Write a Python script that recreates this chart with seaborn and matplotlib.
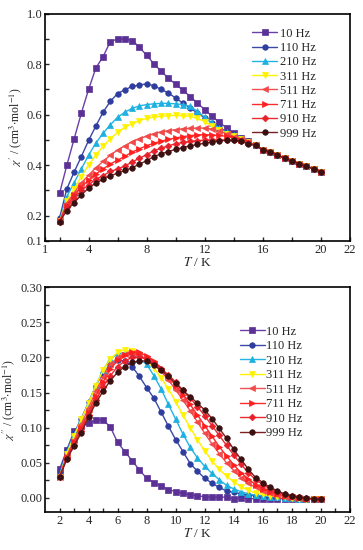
import numpy as np
import pandas as pd
import matplotlib
matplotlib.use("Agg")
import matplotlib.pyplot as plt
import seaborn as sns
from matplotlib.ticker import FixedLocator, MultipleLocator, FormatStrFormatter

sns.set_style("ticks")
plt.rcParams['font.family'] = ['Liberation Serif', 'DejaVu Serif']
plt.rcParams['mathtext.fontset'] = 'stix'

# temperature grid (K)
T = np.arange(2.0, 20.01, 0.5)

freqs = ['10 Hz', '110 Hz', '210 Hz', '311 Hz', '511 Hz', '711 Hz', '910 Hz', '999 Hz']

# common high-temperature tail of chi' (T = 15.5 ... 20)
tail = [0.478, 0.462, 0.452, 0.440, 0.428, 0.416, 0.405, 0.396, 0.385, 0.374]

# in-phase susceptibility chi' (T = 2 ... 15), then tail
chi1_10 = [0.288, 0.399, 0.503, 0.606, 0.700, 0.785, 0.830, 0.890, 0.900, 0.900, 0.894, 0.868, 0.835,
           0.802, 0.772, 0.745, 0.720, 0.697, 0.672, 0.646, 0.620, 0.594, 0.570, 0.548, 0.528, 0.507, 0.494] + tail
chi1_110 = [0.190, 0.306, 0.372, 0.434, 0.498, 0.555, 0.610, 0.653, 0.684, 0.699, 0.712, 0.718, 0.722,
            0.715, 0.700, 0.686, 0.666, 0.646, 0.626, 0.607, 0.588, 0.568, 0.550, 0.533, 0.520, 0.507, 0.494] + tail
chi1_210 = [0.180, 0.275, 0.330, 0.385, 0.440, 0.487, 0.527, 0.560, 0.590, 0.610, 0.625, 0.635, 0.640,
            0.643, 0.645, 0.645, 0.643, 0.640, 0.633, 0.613, 0.590, 0.567, 0.547, 0.530, 0.518, 0.505, 0.492] + tail
chi1_311 = [0.178, 0.260, 0.305, 0.355, 0.400, 0.440, 0.475, 0.505, 0.530, 0.550, 0.565, 0.577, 0.585,
            0.590, 0.594, 0.596, 0.597, 0.596, 0.593, 0.585, 0.573, 0.556, 0.540, 0.525, 0.515, 0.503, 0.490] + tail
chi1_511 = [0.178, 0.250, 0.290, 0.330, 0.360, 0.390, 0.415, 0.440, 0.460, 0.477, 0.493, 0.505, 0.515,
            0.525, 0.532, 0.537, 0.541, 0.544, 0.546, 0.547, 0.547, 0.543, 0.535, 0.525, 0.513, 0.502, 0.490] + tail
chi1_711 = [0.178, 0.240, 0.280, 0.315, 0.340, 0.365, 0.385, 0.405, 0.420, 0.435, 0.452, 0.465, 0.477,
            0.487, 0.495, 0.502, 0.508, 0.513, 0.517, 0.520, 0.521, 0.520, 0.518, 0.514, 0.508, 0.500, 0.490] + tail
chi1_910 = [0.176, 0.236, 0.269, 0.300, 0.322, 0.344, 0.359, 0.375, 0.385, 0.397, 0.412, 0.428, 0.441,
            0.458, 0.467, 0.477, 0.485, 0.490, 0.494, 0.497, 0.499, 0.500, 0.500, 0.500, 0.498, 0.494, 0.487] + tail
chi1_999 = [0.176, 0.220, 0.252, 0.282, 0.309, 0.329, 0.344, 0.358, 0.368, 0.379, 0.390, 0.404, 0.418,
            0.434, 0.445, 0.454, 0.463, 0.470, 0.477, 0.482, 0.487, 0.492, 0.496, 0.499, 0.498, 0.494, 0.485] + tail

# out-of-phase susceptibility chi'' (T = 2 ... 20)
chi2_10 = [0.041, 0.068, 0.095, 0.102, 0.106, 0.111, 0.111, 0.101, 0.079, 0.066, 0.053, 0.040, 0.028,
           0.022, 0.017, 0.012, 0.009, 0.0065, 0.0045, 0.003, 0.002, 0.001, 0.0015, 0.001, -0.001, 0.0,
           -0.001, -0.001, -0.001, -0.001, -0.001, -0.001, -0.0015, -0.0015, -0.002, -0.002, -0.002]
chi2_110 = [0.035, 0.068, 0.092, 0.113, 0.136, 0.160, 0.178, 0.190, 0.196, 0.195, 0.187, 0.173, 0.157,
            0.142, 0.122, 0.102, 0.083, 0.066, 0.049, 0.038, 0.028, 0.021, 0.015, 0.010, 0.008, 0.006,
            0.004, 0.003, 0.002, 0.001, 0.001, 0.0, 0.0, -0.001, -0.001, -0.0015, -0.0015]
chi2_210 = [0.032, 0.066, 0.090, 0.112, 0.135, 0.160, 0.182, 0.198, 0.205, 0.207, 0.204, 0.198, 0.190,
            0.174, 0.155, 0.133, 0.112, 0.091, 0.072, 0.057, 0.045, 0.035, 0.026, 0.018, 0.013, 0.009,
            0.006, 0.004, 0.003, 0.002, 0.001, 0.0005, 0.0, -0.001, -0.001, -0.0015, -0.0015]
chi2_311 = [0.030, 0.063, 0.088, 0.112, 0.135, 0.160, 0.182, 0.198, 0.207, 0.211, 0.209, 0.203, 0.195,
            0.185, 0.171, 0.155, 0.137, 0.118, 0.100, 0.083, 0.067, 0.053, 0.041, 0.031, 0.023, 0.016,
            0.011, 0.007, 0.005, 0.003, 0.002, 0.001, 0.0, -0.001, -0.001, -0.0015, -0.0015]
chi2_511 = [0.030, 0.060, 0.082, 0.105, 0.128, 0.152, 0.172, 0.190, 0.200, 0.205, 0.206, 0.203, 0.198,
            0.190, 0.180, 0.168, 0.154, 0.139, 0.124, 0.108, 0.092, 0.077, 0.063, 0.050, 0.039, 0.029,
            0.021, 0.015, 0.010, 0.007, 0.004, 0.002, 0.001, 0.0, -0.001, -0.0015, -0.0015]
chi2_711 = [0.030, 0.058, 0.079, 0.100, 0.122, 0.145, 0.165, 0.183, 0.196, 0.204, 0.208, 0.207, 0.202,
            0.195, 0.185, 0.173, 0.160, 0.147, 0.133, 0.118, 0.103, 0.088, 0.073, 0.060, 0.047, 0.036,
            0.027, 0.019, 0.013, 0.009, 0.006, 0.003, 0.002, 0.0, -0.001, -0.0015, -0.0015]
chi2_910 = [0.030, 0.056, 0.076, 0.096, 0.118, 0.139, 0.158, 0.174, 0.187, 0.195, 0.200, 0.200, 0.198,
            0.192, 0.184, 0.175, 0.165, 0.153, 0.142, 0.130, 0.117, 0.103, 0.089, 0.075, 0.061, 0.048,
            0.036, 0.026, 0.019, 0.013, 0.008, 0.005, 0.0025, 0.001, 0.0, -0.001, -0.0015]
chi2_999 = [0.030, 0.055, 0.074, 0.093, 0.115, 0.135, 0.152, 0.167, 0.179, 0.187, 0.193, 0.195, 0.195,
            0.189, 0.182, 0.173, 0.163, 0.153, 0.144, 0.135, 0.125, 0.113, 0.099, 0.085, 0.069, 0.055,
            0.041, 0.029, 0.022, 0.015, 0.0104, 0.0057, 0.003, 0.001, 0.0, -0.0014, -0.0014]

chi1 = [chi1_10, chi1_110, chi1_210, chi1_311, chi1_511, chi1_711, chi1_910, chi1_999]
chi2 = [chi2_10, chi2_110, chi2_210, chi2_311, chi2_511, chi2_711, chi2_910, chi2_999]

colors = ['#5b3196', '#2e3d9e', '#1eb0e0', '#fff200', '#f04a4a', '#ff1f1f', '#e8202a', '#3a1010']
line_colors = ['#6a3fa8', '#3a48a8', '#22b4e4', '#fff200', '#f25050', '#ff2a2a', '#ea2a30', '#7a2020']
markers = ['s', 'o', '^', 'v', '<', '>', 'D', 'o']
msizes = [3.8, 4.0, 4.2, 4.2, 4.2, 4.2, 3.4, 4.0]


def draw_panel(ax, series):
    for f, vals, c, lc, m, ms in zip(freqs, series, colors, line_colors, markers, msizes):
        df = pd.DataFrame({'T': T, 'chi': vals})
        sns.lineplot(data=df, x='T', y='chi', ax=ax, color=lc, marker=m, markersize=ms,
                     markerfacecolor=c, markeredgecolor=c, markeredgewidth=0.5,
                     linewidth=1.0, label=f)
    for s in ax.spines.values():
        s.set_linewidth(1.2)
        s.set_color('black')
    ax.tick_params(which='both', direction='in', length=3, width=1, labelsize=9,
                   top=False, right=False, pad=2)
    ax.set_xlabel('$T$ / K', fontsize=9.5, labelpad=0)


fig = plt.figure(figsize=(3.63, 5.5), dpi=100)
ax1 = fig.add_axes([0.124, 0.562, 0.840, 0.413])
ax2 = fig.add_axes([0.124, 0.069, 0.840, 0.409])

draw_panel(ax1, chi1)
ax1.set_xlim(1, 22)
ax1.set_ylim(0.1, 1.0)
ax1.xaxis.set_major_locator(FixedLocator([1, 4, 8, 12, 16, 20, 22]))
ax1.xaxis.set_minor_locator(FixedLocator([2, 6, 10, 14, 18]))
ax1.yaxis.set_major_locator(FixedLocator([0.1, 0.2, 0.4, 0.6, 0.8, 1.0]))
ax1.yaxis.set_minor_locator(FixedLocator([0.3, 0.5, 0.7, 0.9]))
ax1.set_yticklabels(['0.1', '0.2', '0.4', '0.6', '0.8', '1.0'])
ax1.set_ylabel("$\\chi'$ / (cm$^3$$\\cdot$mol$^{-1}$)", fontsize=8.5, labelpad=2)
ax1.legend(frameon=False, fontsize=9, handlelength=2.0, handletextpad=0.2,
           labelspacing=0.18, borderaxespad=0.0, loc='upper right',
           bbox_to_anchor=(0.905, 0.96))

draw_panel(ax2, chi2)
ax2.set_xlim(1, 22)
ax2.set_ylim(-0.02, 0.30)
ax2.xaxis.set_minor_locator(FixedLocator(np.arange(3, 22, 2)))
ax2.set_xticks(np.arange(2, 23, 2))
ax2.yaxis.set_major_locator(MultipleLocator(0.05))
ax2.yaxis.set_minor_locator(MultipleLocator(0.025))
ax2.yaxis.set_major_formatter(FormatStrFormatter('%.2f'))
ax2.set_ylabel("$\\chi''$ / (cm$^3$$\\cdot$mol$^{-1}$)", fontsize=8.5, labelpad=2)
ax2.legend(frameon=False, fontsize=9, handlelength=2.0, handletextpad=0.1,
           labelspacing=0.2, borderaxespad=0.0, loc='upper right',
           bbox_to_anchor=(0.86, 0.85))

fig.savefig('out.png', dpi=100)
